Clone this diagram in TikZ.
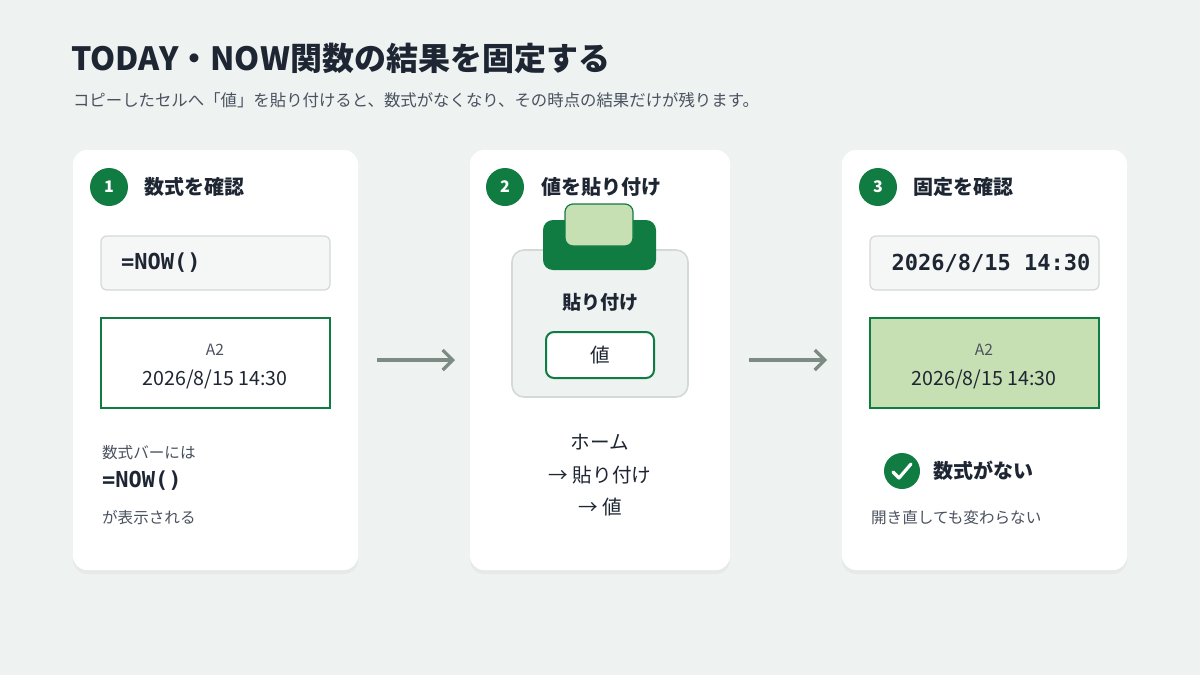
\documentclass[tikz,border=0pt]{standalone}
\usepackage{fontspec}
\setmainfont{Noto Sans CJK JP}
\setmonofont{DejaVu Sans Mono}
\usetikzlibrary{shadows, positioning, arrows.meta}
\definecolor{bgc}{HTML}{EEF3F1}
\definecolor{ink}{HTML}{1E2633}
\definecolor{sub}{HTML}{4A5260}
\definecolor{xlgreen}{HTML}{107C41}
\definecolor{pale}{HTML}{C6E0B4}
\definecolor{edge}{HTML}{D3D9D6}
\definecolor{arrowc}{HTML}{7C8B83}
\definecolor{boxc}{HTML}{F5F7F6}
\tikzset{
    card/.style={draw=none, fill=white, rounded corners=7pt, drop shadow={shadow xshift=0pt, shadow yshift=-2pt, opacity=0.08}},
    badge/.style={circle, fill=xlgreen, text=white, minimum size=19pt, inner sep=0pt, font=\bfseries\fontsize{8}{8}\selectfont},
    head/.style={anchor=west, text=ink, font=\bfseries\fontsize{10}{12}\selectfont},
    mono/.style={text=ink, font=\ttfamily\bfseries\fontsize{11}{13}\selectfont},
    fbox/.style={draw=edge, fill=boxc, rounded corners=3pt, line width=0.6pt},
    cell/.style={draw=xlgreen, line width=1.2pt},
    small/.style={text=sub, font=\fontsize{7.8}{9}\selectfont},
    body/.style={text=ink, font=\fontsize{9.8}{12}\selectfont},
    flow/.style={draw=arrowc, line width=1.6pt, -{Straight Barb[length=5pt, width=10pt]}},
}
\begin{document}
\begin{tikzpicture}[x=0.5pt, y=-0.5pt]
    \fill [bgc] (0,0) rectangle (1200,675);
    \useasboundingbox (0,0) rectangle (1200,675);

    % title
    \node [anchor=west, text=ink, font=\bfseries\fontsize{16}{18}\selectfont] (title) at (64,58) {TODAY・NOW関数の結果を固定する};
    \node [anchor=west, text=sub, font=\fontsize{8.2}{10}\selectfont] (subtitle) at (66,100) {コピーしたセルへ「値」を貼り付けると、数式がなくなり、その時点の結果だけが残ります。};

    % cards
    \path [card] (73,150) rectangle (358,570);
    \path [card] (470,150) rectangle (730,570);
    \path [card] (842,150) rectangle (1127,570);
    \coordinate (c1) at (358,360);
    \coordinate (c2w) at (470,360);
    \coordinate (c2) at (730,360);
    \coordinate (c3w) at (842,360);

    % card 1
    \node [badge] (s1) at (109,187) {1};
    \node [head] (h1) at (137,187) {数式を確認};
    \draw [fbox] (101,236) rectangle (330,290);
    \node [mono, anchor=west] (f1) at (114,263) {=NOW()};
    \draw [cell] (101,318) rectangle (330,408);
    \node [small] (a1) at (215,350) {A2};
    \node [body] (d1) at (215,379) {2026/8/15 14:30};
    \node [small, anchor=west] (n1) at (95,453) {数式バーには};
    \node [mono, anchor=west] (n2) at (95,481) {=NOW()};
    \node [small, anchor=west] (n3) at (95,518) {が表示される};

    % card 2
    \node [badge] (s2) at (505,187) {2};
    \node [head] (h2) at (534,187) {値を貼り付け};
    \draw [fill=bgc, draw=edge, line width=0.8pt, rounded corners=6pt] (512,250) rectangle (688,397);
    \fill [xlgreen, rounded corners=5pt] (543,220) rectangle (656,270);
    \draw [fill=pale, draw=xlgreen, line width=0.6pt, rounded corners=4pt] (565,204) rectangle (633,246);
    \node [text=ink, font=\bfseries\fontsize{9.5}{11}\selectfont] (p2) at (600,302) {貼り付け};
    \node [draw=xlgreen, fill=white, line width=1pt, rounded corners=4pt, minimum width=54pt, minimum height=23pt, body] (v2) at (600,355) {値};
    \node [body] (m1) at (600,442) {ホーム};
    \node [body] (m2) at (600,475) {→ 貼り付け};
    \node [body] (m3) at (600,507) {→ 値};

    % card 3
    \node [badge] (s3) at (878,187) {3};
    \node [head] (h3) at (906,187) {固定を確認};
    \draw [fbox] (870,236) rectangle (1099,290);
    \node [mono] (f3) at (991,263) {2026/8/15 14:30};
    \draw [cell, fill=pale] (870,318) rectangle (1099,408);
    \node [small] (a3) at (984,350) {A2};
    \node [body] (d3) at (984,379) {2026/8/15 14:30};
    \node [circle, fill=xlgreen, minimum size=18pt, inner sep=0pt] (ok) at (902,471) {};
    \draw [white, line width=1.6pt, line cap=round, line join=round] (893,472) -- (899,478) -- (911,464);
    \node [head] (h4) at (926,471) {数式がない};
    \node [small, anchor=west] (n4) at (864,518) {開き直しても変わらない};

    % arrows
    \draw [flow, shorten <=9.5pt, shorten >=7.5pt] (c1) -- (c2w);
    \draw [flow, shorten <=9.5pt, shorten >=7.5pt] (c2) -- (c3w);
\end{tikzpicture}
\end{document}
